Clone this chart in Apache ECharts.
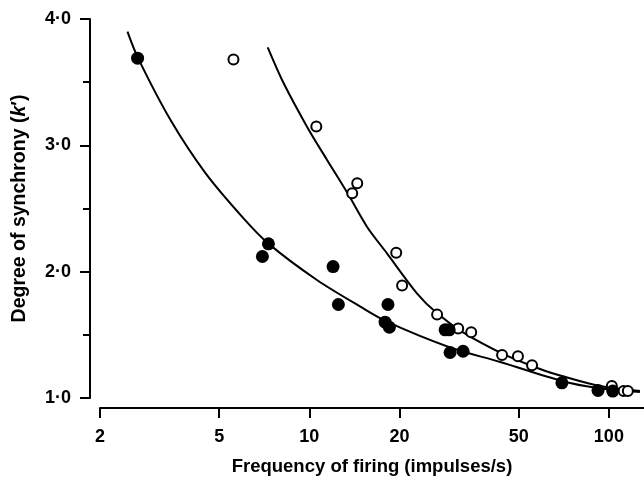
<!DOCTYPE html>
<html>
<head>
<meta charset="utf-8">
<script src="https://cdn.jsdelivr.net/npm/echarts@6/dist/echarts.min.js"></script>
<style>
html,body{margin:0;padding:0;background:#fff;}
#chart{width:644px;height:478px;}
</style>
</head>
<body>
<div id="chart"></div>
<script>
// ---- data ----
const xTicks = [2, 5, 10, 20, 50, 100];
const yTicks = [1, 2, 3, 4];

const filledX = [2.67, 6.97, 7.3, 12.0, 12.5, 17.9, 18.3, 18.5, 28.4, 29.3, 29.5, 32.6, 69.7, 92, 103];
const filledY = [3.69, 2.12, 2.22, 2.04, 1.74, 1.60, 1.74, 1.56, 1.54, 1.54, 1.36, 1.37, 1.12, 1.06, 1.055];

const openX = [5.58, 10.55, 13.9, 14.45, 19.5, 20.4, 26.7, 31.4, 34.7, 44.0, 49.7, 55.4, 102.3, 112, 115.7];
const openY = [3.68, 3.15, 2.62, 2.70, 2.15, 1.89, 1.66, 1.55, 1.52, 1.34, 1.33, 1.26, 1.095, 1.055, 1.055];

const curveFilledX = [2.47, 2.68, 3.44, 4.50, 6.04, 7.32, 10.6, 14.8, 18.3, 29.5, 43.4, 69.7, 91.9, 127];
const curveFilledY = [3.90, 3.69, 3.20, 2.78, 2.42, 2.22, 1.934, 1.723, 1.60, 1.40, 1.285, 1.135, 1.079, 1.047];

const curveOpenX = [7.26, 8.21, 9.82, 11.46, 13.42, 15.57, 18.16, 22.86, 26.7, 32.6, 44.3, 58.9, 69.7, 93.3, 127];
const curveOpenY = [3.776, 3.491, 3.148, 2.884, 2.620, 2.356, 2.145, 1.829, 1.67, 1.52, 1.35, 1.23, 1.174, 1.095, 1.055];

const zip = (xs, ys) => xs.map((x, i) => [x, ys[i]]);

const FONT = '"Liberation Sans", Arial, Helvetica, sans-serif';
const chart = echarts.init(document.getElementById('chart'), null, {renderer: 'canvas'});

chart.setOption({
  animation: false,
  backgroundColor: '#fff',
  grid: {left: 100, right: 0, top: 19, bottom: 80, containLabel: false, outerBoundsMode: 'none'},
  xAxis: {
    type: 'log',
    logBase: 10,
    min: 2,
    max: 131,
    offset: 10,
    name: 'Frequency of firing (impulses/s)',
    nameLocation: 'middle',
    nameGap: 49,
    nameTextStyle: {fontFamily: FONT, fontSize: 18.5, fontWeight: 'bold', color: '#000'},
    axisLine: {show: true, lineStyle: {color: '#000', width: 2}},
    axisTick: {show: true, length: 10, lineStyle: {color: '#000', width: 2}, customValues: xTicks},
    axisLabel: {
      customValues: xTicks,
      margin: 20,
      fontFamily: FONT, fontSize: 18, fontWeight: 'bold', color: '#000',
      formatter: v => String(v)
    },
    minorTick: {show: false},
    splitLine: {show: false}
  },
  yAxis: {
    type: 'value',
    min: 1,
    max: 4,
    interval: 1,
    offset: 10,
    name: 'Degree of synchrony ({i|k}′)',
    nameLocation: 'middle',
    nameGap: 60,
    nameRotate: 90,
    nameTextStyle: {
      fontFamily: FONT, fontSize: 19.5, fontWeight: 'bold', color: '#000',
      rich: {i: {fontFamily: FONT, fontSize: 19.5, fontWeight: 'bold', fontStyle: 'italic', color: '#000'}}
    },
    axisLine: {show: true, lineStyle: {color: '#000', width: 2}},
    axisTick: {show: true, length: 10, lineStyle: {color: '#000', width: 2}},
    minorTick: {show: true, splitNumber: 2, length: 7, lineStyle: {color: '#000', width: 2}},
    axisLabel: {
      customValues: yTicks,
      margin: 19,
      fontFamily: FONT, fontSize: 18, fontWeight: 'bold', color: '#000',
      formatter: v => v.toFixed(1).replace('.', '\u00b7')
    },
    splitLine: {show: false},
    minorSplitLine: {show: false}
  },
  series: [
    {
      type: 'line', data: zip(curveFilledX, curveFilledY), smooth: 0.3,
      showSymbol: false, symbol: 'none',
      lineStyle: {color: '#000', width: 2}, z: 1
    },
    {
      type: 'line', data: zip(curveOpenX, curveOpenY), smooth: 0.3,
      showSymbol: false, symbol: 'none',
      lineStyle: {color: '#000', width: 2}, z: 1
    },
    {
      type: 'scatter', data: zip(openX, openY), symbol: 'circle', symbolSize: 10,
      itemStyle: {color: '#fff', borderColor: '#000', borderWidth: 2, opacity: 1}, z: 3
    },
    {
      type: 'scatter', data: zip(filledX, filledY), symbol: 'circle', symbolSize: 13,
      itemStyle: {color: '#000', opacity: 1}, z: 4
    }
  ]
});
</script>
</body>
</html>
